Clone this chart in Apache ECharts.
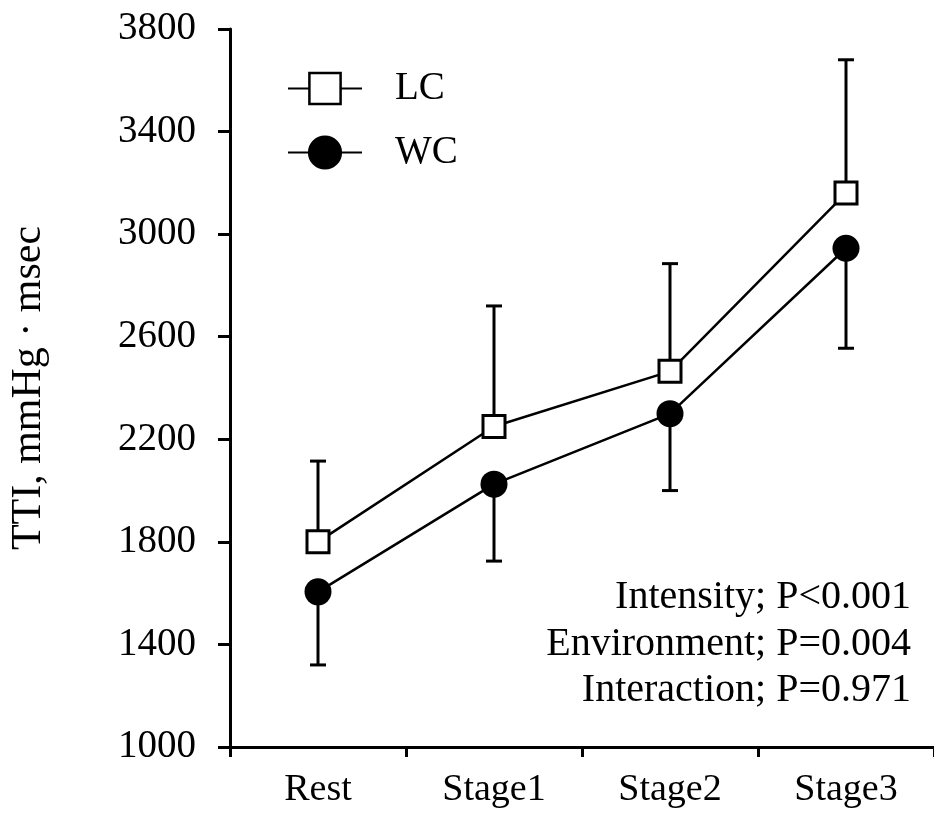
<!DOCTYPE html>
<html><head><meta charset="utf-8">
<script src="https://cdn.jsdelivr.net/npm/echarts@6/dist/echarts.min.js"></script>
<style>html,body{margin:0;padding:0;background:#fff}#c{width:934px;height:814px}</style>
</head><body><div id="c"></div>
<script>
const categories = ['Rest', 'Stage1', 'Stage2', 'Stage3'];
const lcMean = [1800, 2250, 2465, 3160];
const lcUpper = [2115, 2720, 2885, 3680];
const wcMean = [1605, 2025, 2300, 2945];
const wcLower = [1320, 1725, 2000, 2555];
const yMin = 1000, yMax = 3800, yStep = 400;
const statLines = ['Intensity; P<0.001', 'Environment; P=0.004', 'Interaction; P=0.971'];
const yName = 'TTI, mmHg · msec';

const FONT = '"Liberation Serif", "Times New Roman", serif';

function errSeries(name, mean, bound) {
  return {
    type: 'custom', name: name, z: 1, silent: true,
    data: mean.map((m, i) => [i, m, bound[i]]),
    renderItem: function (params, api) {
      const x = api.value(0);
      const p0 = api.coord([x, api.value(1)]);
      const p1 = api.coord([x, api.value(2)]);
      const hw = 8;
      return {
        type: 'group', children: [
          { type: 'line', shape: { x1: p0[0], y1: p0[1], x2: p1[0], y2: p1[1] }, style: { stroke: '#000', lineWidth: 3 } },
          { type: 'line', shape: { x1: p1[0] - hw, y1: p1[1], x2: p1[0] + hw, y2: p1[1] }, style: { stroke: '#000', lineWidth: 3 } }
        ]
      };
    }
  };
}

const chart = echarts.init(document.getElementById('c'), null, { renderer: 'canvas' });
chart.setOption({
  animation: false,
  backgroundColor: '#fff',
  grid: { left: 229, right: -5, top: 29, bottom: 67, containLabel: false },
  graphic: statLines.map(function (t, i) {
    return {
      type: 'text', right: 23, top: 574 + i * 46.7, silent: true,
      style: { text: t, font: '40px ' + FONT, fill: '#000', lineHeight: 47 }
    };
  }),
  legend: {
    orient: 'vertical', left: 287, top: 69, padding: 0,
    itemWidth: 74, itemHeight: 39, itemGap: 25, selectedMode: false,
    data: [{ name: 'LC', itemStyle: { borderWidth: 2.5 } }, { name: 'WC', itemStyle: { borderWidth: 3 } }],
    textStyle: { fontFamily: FONT, fontSize: 39, color: '#000', padding: [0, 0, 0, 28] }
  },
  xAxis: {
    type: 'category', data: categories, boundaryGap: true,
    axisLine: { lineStyle: { color: '#000', width: 3 } },
    axisTick: { show: true, length: 10, lineStyle: { color: '#000', width: 3 } },
    axisLabel: { fontFamily: FONT, fontSize: 38, color: '#000', margin: 24 },
    splitLine: { show: false }
  },
  yAxis: {
    type: 'value', min: yMin, max: yMax, interval: yStep,
    name: yName, nameLocation: 'middle', nameGap: 180, nameRotate: 90,
    nameTextStyle: { fontFamily: FONT, fontSize: 42, color: '#000' },
    axisLine: { show: true, lineStyle: { color: '#000', width: 3 } },
    axisTick: { show: true, length: 12, lineStyle: { color: '#000', width: 3 } },
    axisLabel: { fontFamily: FONT, fontSize: 39, color: '#000', margin: 34, formatter: function (v) { return String(v); } },
    splitLine: { show: false }
  },
  series: [
    errSeries('LC err', lcMean, lcUpper),
    errSeries('WC err', wcMean, wcLower),
    {
      type: 'line', name: 'LC', data: lcMean, z: 3,
      symbol: 'rect', symbolSize: 22,
      itemStyle: { color: '#fff', borderColor: '#000', borderWidth: 3 },
      lineStyle: { color: '#000', width: 2.5 }
    },
    {
      type: 'line', name: 'WC', data: wcMean, z: 3,
      symbol: 'circle', symbolSize: 27,
      itemStyle: { color: '#000', borderColor: '#000', borderWidth: 0 },
      lineStyle: { color: '#000', width: 2.5 }
    }
  ]
});
</script></body></html>
